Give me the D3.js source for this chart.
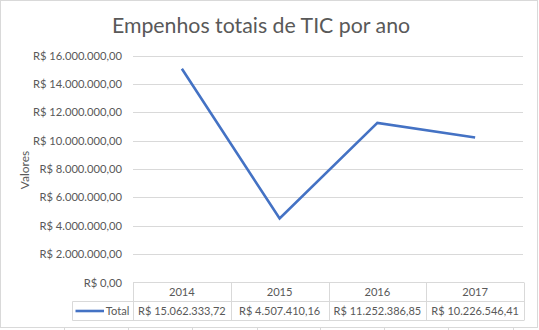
<!DOCTYPE html>
<html>
<head>
<meta charset="utf-8">
<script src="https://cdn.jsdelivr.net/npm/d3@7"></script>
<style>
  html, body { margin: 0; padding: 0; background: #fff; }
  svg { display: block; font-family: Lato, "Open Sans", sans-serif; }
</style>
</head>
<body>
<svg id="chart" width="539" height="330"></svg>
<script>
// Empenhos totais de TIC por ano (R$)
const years = ["2014", "2015", "2016", "2017"];
const totals = [15062333.72, 4507410.16, 11252386.85, 10226546.41];
const yTicks = [0, 2e6, 4e6, 6e6, 8e6, 10e6, 12e6, 14e6, 16e6];
const seriesName = "Total";
const titleText = "Empenhos totais de TIC por ano";
const yAxisTitle = "Valores";

const brl = d3.formatLocale({
  decimal: ",", thousands: ".", grouping: [3], currency: ["R$ ", ""]
}).format("$,.2f");

const svg = d3.select("#chart");
const W = 539, H = 330;
const grey = "#d9d9d9", textCol = "#595959", lineCol = "#4472C4";

const plot = { left: 133, right: 524, top: 55.5, bottom: 282.5 };
const x = d3.scaleBand().domain(years).range([plot.left, plot.right]);
const y = d3.scaleLinear().domain([0, 16e6]).range([plot.bottom, plot.top]);

svg.append("rect").attr("width", W).attr("height", H).attr("fill", "#fff");

// spreadsheet cell lines peeking below the chart frame
const cellXs = [64, 128, 192, 257, 320, 384, 448, 513];
svg.append("g").selectAll("line").data(cellXs).join("line")
  .attr("x1", d => d + 0.5).attr("x2", d => d + 0.5)
  .attr("y1", 327).attr("y2", H)
  .attr("stroke", grey).attr("stroke-width", 1);

// chart frame
svg.append("rect")
  .attr("x", 0.5).attr("y", 0.5).attr("width", 537).attr("height", 327)
  .attr("fill", "none").attr("stroke", grey).attr("stroke-width", 1);

// title
svg.append("text")
  .attr("x", 261).attr("y", 33)
  .attr("text-anchor", "middle")
  .attr("fill", textCol)
  .attr("font-size", 21.3)
  .text(titleText);

// gridlines
svg.append("g").selectAll("line").data(yTicks.filter(d => d > 0)).join("line")
  .attr("x1", plot.left).attr("x2", plot.right - 1)
  .attr("y1", d => Math.round(y(d)) + 0.5).attr("y2", d => Math.round(y(d)) + 0.5)
  .attr("stroke", grey).attr("stroke-width", 1);

// y axis labels
const yAxis = d3.axisLeft(y).tickValues(yTicks).tickFormat(brl).tickSize(0).tickPadding(0);
const gy = svg.append("g").attr("transform", `translate(${plot.left - 11},0)`).call(yAxis);
gy.select(".domain").remove();
gy.selectAll("text")
  .attr("fill", textCol)
  .attr("font-size", 11.2)
  .attr("font-family", "Lato, sans-serif");

// y axis title
svg.append("text")
  .attr("transform", "translate(29,170) rotate(-90)")
  .attr("text-anchor", "middle")
  .attr("fill", textCol)
  .attr("font-size", 12)
  .text(yAxisTitle);

// series line
const line = d3.line()
  .x((d, i) => x(years[i]) + x.bandwidth() / 2)
  .y(d => y(d));
svg.append("path")
  .datum(totals)
  .attr("d", line)
  .attr("fill", "none")
  .attr("stroke", lineCol)
  .attr("stroke-width", 2.6)
  .attr("stroke-linejoin", "miter");

// data table under the plot
const rowTop = plot.bottom, rowMid = 301.5, rowBot = 320.5, legendLeft = 72.5;
const tbl = svg.append("g").attr("stroke", grey).attr("stroke-width", 1).attr("fill", "none");
tbl.append("line").attr("x1", plot.left).attr("x2", plot.right).attr("y1", rowTop).attr("y2", rowTop);
tbl.append("line").attr("x1", legendLeft).attr("x2", plot.right).attr("y1", rowMid).attr("y2", rowMid);
tbl.append("line").attr("x1", legendLeft).attr("x2", plot.right).attr("y1", rowBot).attr("y2", rowBot);
tbl.append("line").attr("x1", legendLeft).attr("x2", legendLeft).attr("y1", rowMid).attr("y2", rowBot);
const colEdges = years.map(d => Math.round(x(d)) + 0.5).concat([Math.round(plot.right) + 0.5]);
tbl.selectAll("line.col").data(colEdges).join("line").attr("class", "col")
  .attr("x1", d => d).attr("x2", d => d).attr("y1", rowTop).attr("y2", rowBot);

svg.append("g").selectAll("text").data(years).join("text")
  .attr("x", d => x(d) + x.bandwidth() / 2)
  .attr("y", (rowTop + rowMid) / 2 + 4)
  .attr("text-anchor", "middle").attr("fill", textCol).attr("font-size", 11.2)
  .text(d => d);

svg.append("g").selectAll("text").data(totals).join("text")
  .attr("x", (d, i) => x(years[i]) + x.bandwidth() / 2)
  .attr("y", (rowMid + rowBot) / 2 + 4)
  .attr("text-anchor", "middle").attr("fill", textCol).attr("font-size", 11)
  .text(d => brl(d));

// legend key inside the table
svg.append("line")
  .attr("x1", 75.5).attr("x2", 104).attr("y1", 311).attr("y2", 311)
  .attr("stroke", lineCol).attr("stroke-width", 2.6);
svg.append("text")
  .attr("x", 129.5).attr("y", 315)
  .attr("text-anchor", "end").attr("fill", textCol).attr("font-size", 11.2)
  .text(seriesName);
</script>
</body>
</html>
